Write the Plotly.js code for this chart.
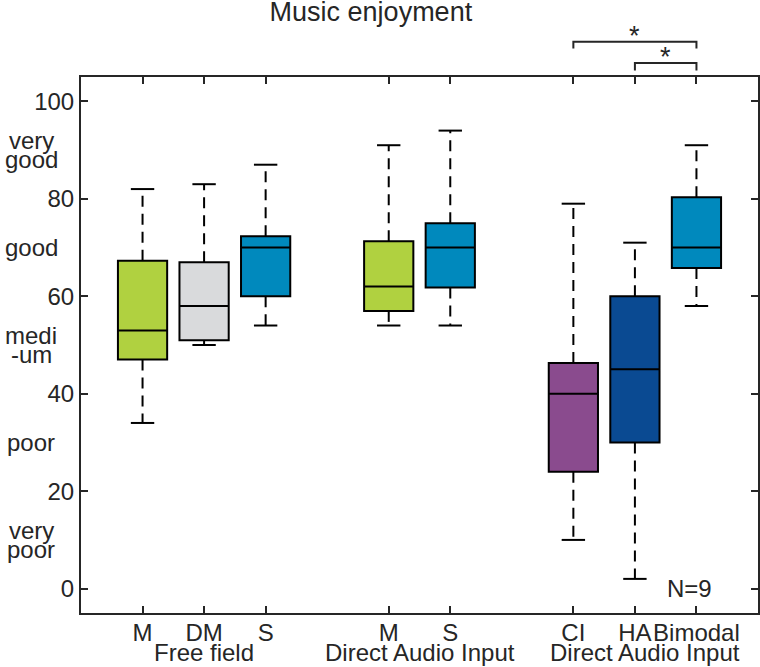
<!DOCTYPE html>
<html>
<head>
<meta charset="utf-8">
<script src="https://cdn.plot.ly/plotly-3.0.1.min.js"></script>
<style>
  html, body { margin: 0; padding: 0; background: #fff; }
  #chart { width: 760px; height: 667px; }
</style>
</head>
<body>
<div id="chart"></div>
<script>
// Music enjoyment ratings (0-100), box statistics per listening condition
const labels     = ['M', 'DM', 'S', 'M', 'S', 'CI', 'HA', 'Bimodal'];
const positions  = [1, 2, 3, 5, 6, 8, 9, 10];
const lowerWhisk = [34, 50, 54, 54, 54, 10, 2, 58];
const q1s        = [47, 51, 60, 57, 61.8, 24, 30, 65.8];
const medians    = [53, 58, 70, 62, 70, 40, 45, 70];
const q3s        = [67.3, 67, 72.3, 71.3, 75, 46.3, 60, 80.3];
const upperWhisk = [82, 83, 87, 91, 94, 79, 71, 91];
const boxColors  = ['#b0d140', '#d9dadc', '#0089bd', '#b0d140', '#0089bd', '#8a4b8e', '#0a4a92', '#0089bd'];

const groupNames  = ['Free field', 'Direct Audio Input', 'Direct Audio Input'];
const groupCenter = [2, 5.5, 9.17];

const ratingWords  = [['very', 'good'], ['good'], ['medi', '-um'], ['poor'], ['very', 'poor']];
const ratingLevels = [90, 70, 50, 30, 10];

// significant pairwise differences (drawn as brackets above the plot)
const sigPairs = [['CI', 'Bimodal'], ['HA', 'Bimodal']];
const sampleSize = 9;

const textColor = '#262626';
const font = { family: 'Liberation Sans, Arial, sans-serif', size: 24, color: textColor };

// --- whiskers: dashed stems + solid caps ---
const capHalf = 0.19;
const stemX = [], stemY = [], capX = [], capY = [];
positions.forEach((p, i) => {
    stemX.push(p, p, null, p, p, null);
    stemY.push(q3s[i], upperWhisk[i], null, q1s[i], lowerWhisk[i], null);
    capX.push(p - capHalf, p + capHalf, null, p - capHalf, p + capHalf, null);
    capY.push(upperWhisk[i], upperWhisk[i], null, lowerWhisk[i], lowerWhisk[i], null);
});

const traces = [
    { type: 'scatter', mode: 'lines', x: stemX, y: stemY, hoverinfo: 'skip',
      line: { color: '#000', width: 2, dash: '11px,7px' } },
    { type: 'scatter', mode: 'lines', x: capX, y: capY, hoverinfo: 'skip',
      line: { color: '#000', width: 2 } }
];

positions.forEach((p, i) => {
    traces.push({
        type: 'box', x: [p],
        q1: [q1s[i]], median: [medians[i]], q3: [q3s[i]],
        lowerfence: [q1s[i]], upperfence: [q3s[i]],
        width: 0.8, whiskerwidth: 0, boxpoints: false,
        fillcolor: boxColors[i], line: { color: '#000', width: 2 },
        hoverinfo: 'skip'
    });
});

// --- annotations ---
const annotations = [];
groupNames.forEach((g, i) => {
    annotations.push({ xref: 'x', yref: 'paper', x: groupCenter[i], y: 0, yanchor: 'top',
        yshift: -24, text: g, showarrow: false, font: font });
});
ratingWords.forEach((lines, i) => {
    lines.forEach((w, j) => {
        const off = (lines.length - 1) / 2 - j;
        annotations.push({ xref: 'paper', yref: 'y', x: 0, xshift: -50, xanchor: 'center',
            y: ratingLevels[i], yshift: off * 19, yanchor: 'middle', text: w, showarrow: false, font: font });
    });
});
annotations.push({ xref: 'x', yref: 'y', x: 9.89, y: 0, yanchor: 'middle', text: 'N=' + sampleSize,
    showarrow: false, font: font });

// --- significance brackets ---
const plotTop = 77, plotH = 536;
const pxToPaper = px => 1 + (plotTop - px) / plotH;
const shapes = [];
sigPairs.forEach((pair, k) => {
    const xa = positions[labels.lastIndexOf(pair[0])];
    const xb = positions[labels.lastIndexOf(pair[1])];
    const top = pxToPaper(41.7 + k * 21.3);
    const leg = pxToPaper(48.5 + k * 22);
    shapes.push({ type: 'path', xref: 'x', yref: 'paper',
        path: `M ${xa},${leg} L ${xa},${top} L ${xb},${top} L ${xb},${leg}`,
        line: { color: textColor, width: 2 } });
    annotations.push({ xref: 'x', yref: 'paper', x: (xa + xb) / 2, y: top, yanchor: 'bottom',
        yshift: -11, text: '*', showarrow: false,
        font: Object.assign({}, font, { size: 27 }) });
});

const axisBase = {
    showline: true, linecolor: textColor, linewidth: 2, mirror: 'ticks',
    ticks: 'inside', ticklen: 7, tickwidth: 2, tickcolor: textColor,
    showgrid: false, zeroline: false, fixedrange: true,
    tickfont: font
};

const layout = {
    width: 760, height: 667,
    margin: { l: 81, r: 2, t: 77, b: 54 },
    paper_bgcolor: '#fff', plot_bgcolor: '#fff',
    font: font, showlegend: false, boxmode: 'overlay',
    title: { text: 'Music enjoyment', font: Object.assign({}, font, { size: 27 }),
             xref: 'container', x: 0.488, xanchor: 'center',
             yref: 'container', y: 1, yanchor: 'top', pad: { t: 2 } },
    xaxis: Object.assign({}, axisBase, { range: [0, 11], tickvals: positions, ticktext: labels,
             tickangle: 0, ticklabelstandoff: -3 }),
    yaxis: Object.assign({}, axisBase, { range: [-5, 105], tickvals: [0, 20, 40, 60, 80, 100] }),
    shapes: shapes,
    annotations: annotations
};

Plotly.newPlot('chart', traces, layout, { displayModeBar: false, staticPlot: true });
</script>
</body>
</html>
